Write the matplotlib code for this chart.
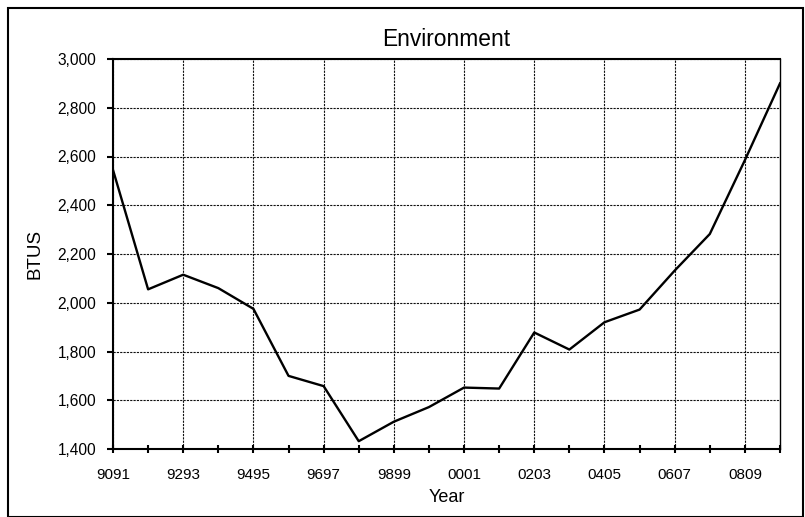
import matplotlib.pyplot as plt
from matplotlib.patches import Rectangle

# fiscal years, every other one labelled
years = ["9091", "9192", "9293", "9394", "9495", "9596", "9697", "9798", "9899", "9900",
         "0001", "0102", "0203", "0304", "0405", "0506", "0607", "0708", "0809", "0910"]
btus = [2545, 2055, 2115, 2060, 1975, 1700, 1658, 1432, 1512, 1572,
        1652, 1648, 1878, 1808, 1920, 1972, 2132, 2282, 2585, 2900]
yticks = [1400, 1600, 1800, 2000, 2200, 2400, 2600, 2800, 3000]

plt.rcParams["font.family"] = ["Liberation Sans", "DejaVu Sans"]

fig = plt.figure(figsize=(8.05, 5.17), dpi=100)
ax = fig.add_axes([113/805, 1-449/517, (780-113)/805, (449-59)/517])

x = list(range(len(years)))
ax.plot(x, btus, color="black", lw=1.7)

ax.set_xlim(0, len(years)-1)
ax.set_ylim(1400, 3000)
ax.set_yticks(yticks)
ax.set_yticklabels([f"{v:,}" for v in yticks], fontsize=11.2)
ax.set_xticks(x[::2])
ax.set_xticklabels(years[::2], fontsize=11)
ax.set_xticks(x, minor=True)
ax.tick_params(axis="x", which="both", direction="inout", length=6, width=1.5, pad=10.5)
ax.tick_params(axis="y", direction="out", length=4, width=1.5, pad=8)

ax.grid(True, which="major", color="#111111", linestyle=(0, (2, 1)), lw=0.8)
for s in ax.spines.values():
    s.set_linewidth(1.5)
ax.spines["right"].set_linewidth(1.0)

ax.set_title("Environment", fontsize=16.4, pad=9)
ax.set_xlabel("Year", fontsize=13, labelpad=5)
ax.set_ylabel("BTUS", fontsize=13.5, labelpad=10)

# outer chart border
fig.patches.append(Rectangle((8/805, 0), 795/805, 1-8/517, transform=fig.transFigure,
                             fill=False, edgecolor="black", lw=1.5))

fig.savefig("out.png", dpi=100)
